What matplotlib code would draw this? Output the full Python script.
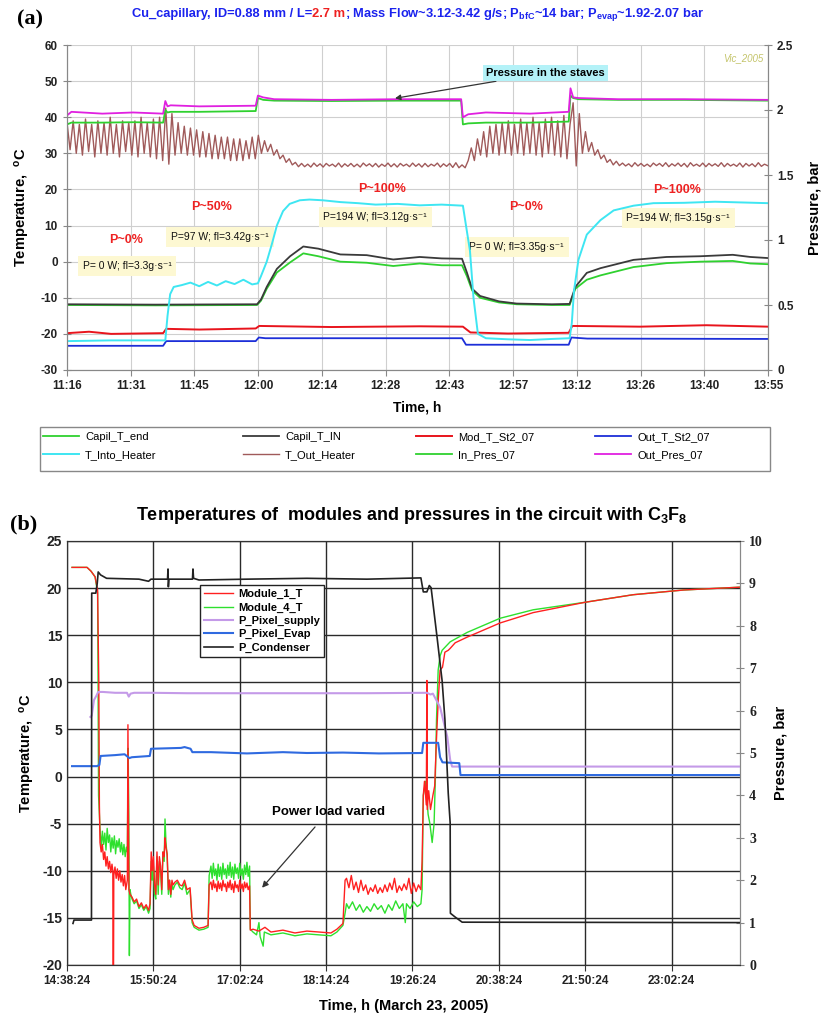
import matplotlib.pyplot as plt
import numpy as np
from matplotlib.offsetbox import TextArea, HPacker, AnchoredOffsetbox
from matplotlib.patches import Rectangle

plt.rcParams['font.family'] = ['Liberation Sans', 'DejaVu Sans']
plt.rcParams['axes.unicode_minus'] = False
plt.rcParams['mathtext.fontset'] = 'custom'
plt.rcParams['mathtext.rm'] = 'Liberation Sans:bold'
plt.rcParams['mathtext.it'] = 'Liberation Sans:bold'
plt.rcParams['mathtext.bf'] = 'Liberation Sans:bold'
plt.rcParams['mathtext.default'] = 'rm'

# ---------------- panel (a) data: minutes after 11:16 ----------------
a_ticklabels = ["11:16", "11:31", "11:45", "12:00", "12:14", "12:28", "12:43",
                "12:57", "13:12", "13:26", "13:40", "13:55"]
a_span = 159

# T_Out_Heater sampled every 0.7 min
out_heater_dt = 0.7
out_heater = [
    38.5, 31, 39, 30, 38, 29.5, 39.5, 30.5, 38, 29, 39, 30, 38.5, 29.5, 40, 30,
    38, 29, 39, 30.5, 38.5, 29.5, 39, 29, 40, 30, 38.5, 29, 39.5, 28.5, 40, 28,
    42.5, 27, 41, 29.5, 38.5, 30, 37.5, 29.5, 37, 29.5, 36.5, 29, 36, 29, 35.5, 28.5,
    35, 28.5, 34.5, 28.5, 34.5, 28, 34, 28, 34, 28, 33.5, 28.5, 34.5, 28.5, 35,
    30, 33.5, 30.5, 32.5, 29.5, 31, 28.5, 29.5, 27.5, 28.5, 26.8, 27.5, 26.3,
    27.2, 26.3, 27.0, 26.2, 27.3, 26.4, 27.1, 26.2, 27.2, 26.5, 27.0, 26.3, 27.3, 26.2,
    27.1, 26.4, 27.2, 26.3, 27.0, 26.2, 27.3, 26.5, 27.1, 26.3, 27.2, 26.2, 27.0, 26.4,
    27.3, 26.3, 27.1, 26.2, 27.2, 26.5, 27.0, 26.3, 27.3, 26.4, 27.1, 26.2, 27.2, 26.3,
    27.0, 26.5, 27.3, 26.2, 27.1, 26.4, 27.2, 26.1, 27.4, 26.0,
    26.8, 26.0, 28.0,
    31.5, 28, 34, 29.5, 36, 29, 37.5, 30, 38, 29.5, 38.5, 30, 39, 29.5, 38, 30,
    39.5, 29.5, 38.5, 30, 40, 29.5, 38.5, 29, 39.5, 30, 40, 29.5, 39, 29, 40.5, 28.5, 38,
    44, 26.5, 41, 30, 36, 30.5, 33, 29.5, 31, 28.5, 29.5, 27.5, 28.3, 26.8, 27.8, 26.6,
    27.3, 26.5, 27.1, 26.3, 27.4, 26.5, 27.2, 26.4, 27.0, 26.3, 27.3, 26.6, 27.2, 26.4,
    27.4, 26.3, 27.1, 26.5, 27.3, 26.4, 27.2, 26.2, 27.4, 26.5, 27.0, 26.4, 27.3, 26.3,
    27.2, 26.5, 27.1, 26.4, 27.4, 26.3, 27.2, 26.5, 27.0, 26.4, 27.3, 26.2, 27.2, 26.5,
    27.1, 26.3, 27.4, 26.4, 27.0, 26.6,
]

into_heater = [(0, -22), (10, -21.8), (22.3, -21.8), (22.8, -15), (23.4, -9), (24.2, -7),
               (26, -6.5), (28, -5.8), (30, -6.8), (32, -5.6), (34, -6.6), (36, -5.4),
               (38, -6.2), (40, -5), (42, -6.3), (43.3, -6), (44, -4), (45.3, 0), (46.5, 5),
               (47.6, 10), (49, 14), (50.5, 16), (52.8, 17), (55, 17.2), (58, 17), (62, 16.5),
               (66, 16.2), (70, 15.8), (75, 16), (80, 15.6), (85, 15.8), (89.8, 15.5),
               (90.5, 10), (91.4, 3), (92.2, -10), (93.2, -20), (95, -21.2), (100, -21.5),
               (105, -21.7), (110, -21.4), (114, -21.2), (114.5, -17), (115, -8), (116, 0.5),
               (117.9, 7.5), (121, 11.5), (124, 14.2), (128.5, 15.5), (133, 16.2), (140, 16.3),
               (147, 16.6), (153, 16.4), (159, 16.2)]

capil_in = [(0, -11.8), (20, -11.9), (43.1, -11.8), (44, -10.5), (45.3, -7), (47.6, -2),
            (50.6, 1.5), (53.6, 4.2), (57, 3.6), (62, 2), (68, 1.8), (74, 0.6), (80, 1.3),
            (85, 0.9), (89.6, 0.8), (90.7, -3), (91.9, -7.5), (93.7, -9.5), (98, -11),
            (102, -11.6), (110, -11.8), (114, -11.7), (115.3, -7), (117.9, -3.1), (121, -1.8),
            (128.5, 0.5), (136, 1.3), (143.6, 1.5), (151, 1.9), (155, 1.3), (159, 1.0)]

capil_end = [(0, -12), (20, -12.1), (43.1, -12), (44, -10.8), (45.3, -7.5), (47.6, -3),
             (50.6, -0.2), (53.6, 2.3), (57, 1.5), (62, 0), (68, -0.3), (74, -1.2), (80, -0.5),
             (85, -1), (89.6, -1), (90.7, -4), (91.9, -8), (93.7, -10), (98, -11.3),
             (102, -11.8), (110, -12), (114, -12), (115.3, -7.5), (117.9, -5), (121, -3.8),
             (128.5, -1.5), (136, -0.4), (143.6, 0), (151, 0.2), (155, -0.5), (159, -0.7)]

mod_st2 = [(0, -19.8), (5, -19.4), (10, -20), (21.8, -19.8), (22.5, -18.6), (30, -18.8),
           (42.8, -18.5), (43.6, -17.8), (60, -18.1), (80, -17.9), (89.8, -18), (91.5, -19.6),
           (100, -19.9), (113.8, -19.7), (114.6, -17.8), (130, -18), (145, -17.6), (159, -18)]

out_st2 = [(0, -23.3), (21.8, -23.3), (22.5, -22), (42.8, -22), (43.5, -21), (45, -21.2),
           (89.6, -21.2), (90.5, -23), (113.8, -23), (114.4, -21), (118, -21.3), (159, -21.4)]

pres_t = [0, 1, 8, 15, 21.8, 22.3, 22.8, 23.5, 30, 42.8, 43.3, 44.5, 47, 60, 75, 89.4, 89.8,
          91, 95, 105, 113.8, 114.2, 114.8, 116, 125, 140, 159]
out_pres = [1.958, 1.986, 1.972, 1.981, 1.972, 2.069, 2.028, 2.036, 2.028, 2.033, 2.111,
            2.097, 2.083, 2.078, 2.083, 2.083, 1.944, 1.967, 1.981, 1.972, 1.986, 2.167,
            2.097, 2.092, 2.083, 2.083, 2.078]
in_pres = [1.889, 1.903, 1.903, 1.906, 1.903, 2.0, 1.981, 1.986, 1.986, 1.992, 2.092, 2.078,
           2.072, 2.069, 2.072, 2.072, 1.889, 1.897, 1.903, 1.903, 1.911, 2.111, 2.092, 2.083,
           2.078, 2.078, 2.072]

# ---------------- panel (b) data: minutes after 14:38:24 ----------------
b_ticklabels = ["14:38:24", "15:50:24", "17:02:24", "18:14:24", "19:26:24", "20:38:24",
                "21:50:24", "23:02:24"]
b_span = 561

module4 = [(4.2, 22.2), (16.7, 22.2), (20, 21.8), (23.4, 21.2), (25.5, 19.5), (25.9, 10),
           (26.3, -2), (27.5, -5.5), (28.5, -7.5), (29.5, -5.8), (30.5, -7.2), (31.5, -6),
           (32.5, -7.8), (33.5, -5.5), (34.5, -7), (35.5, -6.2), (36.5, -8), (37.5, -6.5),
           (38.5, -7.6), (39.5, -6.3), (40.5, -8.2), (41.5, -6.8), (42.5, -7.5), (43.5, -6.6),
           (44.5, -8), (45.5, -7), (46.5, -8.3), (47.5, -7.2), (48.5, -8.5), (49.5, -7.5),
           (50.3, -8), (51, 3), (51.5, -4), (52, -19), (52.5, -12), (53.2, -12.5),
           (54.2, -13), (56, -13.5), (58, -13.2), (60, -14), (62, -13.6), (64, -14.2),
           (66, -13.8), (68, -14.5), (69.2, -14), (70.2, -9), (71, -11), (72, -9.5),
           (73, -12.5), (74, -13), (75, -8.5), (76, -12.5), (77, -9), (78, -10), (79, -12.5),
           (80, -8), (81, -9), (81.7, -4.5), (82.5, -7), (83.5, -8.5), (84.5, -12.5),
           (85.5, -11), (86.5, -12.8), (87.5, -11.3), (88.4, -12), (90, -11.5), (92, -11.2),
           (94, -11.8), (96, -12), (98, -11.3), (100, -12.5), (102.6, -12), (104.3, -15.5),
           (106, -16), (110, -16.3), (114, -16.2), (117.6, -16), (118.5, -10.5),
           (120, -9.5), (121, -10.8), (122, -9.2), (123, -10.5), (124, -9.8), (125, -11),
           (126, -9.3), (127, -10.6), (128, -9.6), (129, -10.9), (130, -9.2), (131, -10.4),
           (132, -9.8), (133, -10.8), (134, -9.4), (135, -10.5), (136, -9.1), (137, -10.7),
           (138, -9.6), (139, -10.9), (140, -9.3), (141, -10.3), (142, -9.7), (143, -10.8),
           (144, -9.2), (145, -10.5), (146, -9.8), (147, -10.9), (148, -9.4), (149, -10.4),
           (150, -9.1), (151, -10.6), (152.2, -9.5), (152.8, -16.2), (155, -16.5),
           (158, -16.8), (160, -15.5), (161, -17), (163.5, -18), (164.5, -16.5), (170, -16.8),
           (180, -16.6), (190, -16.9), (200, -16.7), (210, -16.8), (220, -16.9), (225, -16.5),
           (230, -15.8), (231.8, -14.5), (233, -13.5), (235, -14), (238, -13.3), (241, -14.2),
           (244, -13.6), (247, -14.4), (250, -13.8), (253, -14.3), (256, -13.5), (259, -14.1),
           (262, -13.7), (265, -14.5), (268, -13.6), (271, -14.2), (274, -13.2), (277, -14),
           (280, -13.5), (282, -15.5), (283, -13.5), (286, -14), (289, -13.3), (292, -13.8),
           (295, -13.5), (296, -12), (297, -2), (299, -0.5), (301, -4), (302.5, -5),
           (304.4, -7), (306, -5), (307, -0.5), (308, 6), (309.4, 11.3), (311, 12.8),
           (312.7, 13.4), (319.4, 14.3), (333.6, 15.3), (361, 16.8), (388.6, 17.7),
           (432, 18.5), (472, 19.3), (514, 19.8), (561, 20.1)]

module1 = [(4.2, 22.2), (16.7, 22.2), (20, 21.8), (23.4, 21.2), (25.5, 19.8), (26.5, 10.2),
           (27, -3), (27.5, -7), (28.5, -8), (29.5, -7.2), (30.5, -8.8), (31.5, -8),
           (32.5, -9.5), (33.5, -8.5), (34.5, -9.8), (35.5, -9), (36.5, -10.2), (37.5, -9.3),
           (38.2, -10), (38.4, -20), (38.8, -20), (39, -10.5), (40, -9.6), (41, -10.8),
           (42, -9.8), (43, -11), (44, -10), (45, -11.2), (46, -10.4), (47, -11.6),
           (48, -10.5), (49, -12), (50.3, -11), (50.8, 5.5), (51.2, -3), (51.6, -12),
           (52.5, -12.5), (54.2, -12.8), (56, -13.3), (58, -13), (60, -13.8), (62, -13.4),
           (64, -14), (66, -13.6), (68, -14.2), (69.2, -13.5), (70.2, -8), (71, -10),
           (72, -8.5), (73, -11.5), (74, -12.5), (75, -8), (76, -11.5), (77, -8.5),
           (78, -9.5), (79, -12), (80, -8), (81, -8.5), (81.7, -6.5), (82.5, -7.5),
           (83.5, -8.2), (84.5, -12), (85.5, -11), (86.5, -12.5), (87.5, -11), (88.4, -11.5),
           (90, -11.2), (92, -11), (94, -11.5), (96, -11.6), (98, -11), (100, -12),
           (102.6, -11.8), (104.3, -15.2), (106, -15.8), (110, -16.1), (114, -16),
           (117.6, -15.8), (118.5, -11.5), (120, -11.2), (121, -12), (122, -11), (123, -11.8),
           (124, -11.4), (125, -12.2), (126, -11.1), (127, -11.9), (128, -11.3), (129, -12.1),
           (130, -11), (131, -11.7), (132, -11.4), (133, -12.2), (134, -11.2), (135, -11.8),
           (136, -11), (137, -12), (138, -11.4), (139, -12.3), (140, -11.1), (141, -11.8),
           (142, -11.5), (143, -12.2), (144, -11), (145, -11.9), (146, -11.4), (147, -12.2),
           (148, -11.2), (149, -11.8), (150, -11.3), (151, -12), (152.2, -11.6),
           (152.8, -16.3), (155, -16.2), (160, -16.4), (165, -16), (170, -16.5), (180, -16.3),
           (190, -16.6), (200, -16.4), (210, -16.5), (220, -16.6), (225, -16.2), (230, -15.6),
           (231.8, -11), (233, -10.8), (235, -11.8), (237, -10.5), (239, -12), (241, -11.2),
           (243, -12.3), (245, -11), (247, -12.1), (249, -11.5), (251, -12.5), (253, -11.8),
           (255, -12.2), (257, -11.5), (259, -12.4), (261, -11.8), (263, -12.3), (265, -11.5),
           (267, -12.2), (269, -11.3), (271, -12), (273, -10.8), (275, -12.3), (277, -11.6),
           (279, -12.1), (281, -11.4), (283, -12), (285, -10.8), (287, -12.4), (289, -11.3),
           (291, -12.2), (293, -11.5), (295, -12), (296, -9), (297, -2), (298, -0.5),
           (299.5, -3), (300, 10.2), (300.3, -3.5), (301.5, -1.5), (303, -3.5), (305, -2),
           (306.5, -1), (308, 4), (309.4, 8), (311, 11.3), (313, 11.6), (315, 13.2),
           (317.8, 13.4), (319.4, 13.6), (323.6, 14.2), (333.6, 14.8), (361, 16.3),
           (388.6, 17.4), (432, 18.5), (472, 19.3), (514, 19.8), (561, 20.1)]

p_supply = [(19.5, 5.85), (20.6, 5.88), (22.5, 6.25), (24.5, 6.35), (26, 6.44), (30, 6.44),
            (40, 6.42), (50, 6.42), (51.5, 6.33), (53, 6.4), (56, 6.42), (70, 6.42),
            (100, 6.41), (150, 6.41), (200, 6.41), (250, 6.41), (300, 6.42), (303, 6.38),
            (305, 6.4), (311, 6.08), (317, 5.38), (319.4, 4.84), (321, 4.68), (561, 4.68)]

p_evap = [(4.2, 4.69), (25, 4.69), (27, 4.72), (28, 4.93), (40, 4.95), (48, 4.97),
          (52, 4.88), (54, 4.9), (69, 4.93), (70, 5.1), (95, 5.12), (98, 5.14), (103, 5.1),
          (104.5, 5.02), (120, 5.02), (150, 4.99), (180, 5.02), (200, 5.0), (230, 5.01),
          (260, 4.99), (296, 5.0), (297, 5.24), (309.4, 5.24), (311, 4.9), (313, 4.78),
          (327, 4.76), (328, 4.48), (561, 4.48)]

p_condenser = [(5.0, 0.98), (5.8, 1.06), (20.4, 1.06), (20.6, 8.77), (24, 8.77), (25.2, 9.0),
               (26, 9.27), (28, 9.2), (33, 9.12), (60, 9.1), (68, 9.05), (70, 9.1),
               (83.8, 9.1), (84.2, 9.34), (84.5, 8.92), (85, 9.1), (104.6, 9.1), (105, 9.34),
               (105.5, 9.12), (110, 9.08), (150, 9.1), (200, 9.12), (250, 9.1), (295, 9.13),
               (297, 8.8), (300, 8.8), (302, 8.95), (303.5, 8.9), (308.6, 7.7), (312.7, 6.7),
               (315, 5.8), (317.8, 4.05), (319.4, 3.35), (319.6, 1.22), (323.6, 1.13),
               (329.4, 1.01), (561, 1.0)]

# ---------------- figure ----------------
fig = plt.figure(figsize=(8.25, 10.17), dpi=100)
W, H = 825, 1017
ax_a = fig.add_axes([67 / W, 1 - 370 / H, 701 / W, 325 / H])
ax_a2 = ax_a.twinx()
ax_b = fig.add_axes([67 / W, 1 - 965 / H, 673 / W, 424 / H])
ax_b2 = ax_b.twinx()


def xy(pts):
    arr = np.array(pts, dtype=float)
    return arr[:, 0], arr[:, 1]


# ---- panel (a) ----
c_green = '#2fd12f'
t_oh = np.arange(len(out_heater)) * out_heater_dt
l_end, = ax_a.plot(*xy(capil_end), color=c_green, lw=1.3, label='Capil_T_end')
l_in, = ax_a.plot(*xy(capil_in), color='#3a3a3a', lw=1.3, label='Capil_T_IN')
l_mod, = ax_a.plot(*xy(mod_st2), color='#e8141c', lw=1.4, label='Mod_T_St2_07')
l_out, = ax_a.plot(*xy(out_st2), color='#1c2ed8', lw=1.3, label='Out_T_St2_07')
l_into, = ax_a.plot(*xy(into_heater), color='#3ee6f2', lw=1.4, label='T_Into_Heater')
l_oh, = ax_a.plot(t_oh, out_heater, color='#a05a5a', lw=1.0, label='T_Out_Heater')
l_inp, = ax_a2.plot(pres_t, in_pres, color=c_green, lw=1.3, label='In_Pres_07')
l_outp, = ax_a2.plot(pres_t, out_pres, color='#e020e0', lw=1.3, label='Out_Pres_07')

ax_a.set_xlim(0, a_span)
ax_a.set_ylim(-30, 60)
ax_a2.set_ylim(0, 2.5)
ax_a.set_xticks(np.arange(12) * a_span / 11)
ax_a.set_xticklabels(a_ticklabels)
ax_a.set_yticks(np.arange(-30, 61, 10))
ax_a2.set_yticks([0, 0.5, 1, 1.5, 2, 2.5])
ax_a2.set_yticklabels(['0', '0.5', '1', '1.5', '2', '2.5'])
ax_a.grid(True, color='#cfcfcf', lw=0.8)
ax_a.set_axisbelow(True)
for ax in (ax_a, ax_a2):
    for side in ('left', 'right', 'bottom'):
        ax.spines[side].set_color('#888888')
    ax.spines['top'].set_visible(False)
ax_a.tick_params(axis='both', labelsize=8.5, colors='#888888', labelcolor='#222222', length=4)
ax_a.tick_params(axis='y', direction='inout', length=6)
ax_a2.tick_params(axis='y', labelsize=8.5, colors='#888888', labelcolor='#222222',
                  direction='inout', length=6)
for lab in ax_a.get_xticklabels() + ax_a.get_yticklabels() + ax_a2.get_yticklabels():
    lab.set_fontweight('bold')
ax_a.set_xlabel('Time, h', fontsize=10, fontweight='bold', labelpad=6)
ax_a.set_ylabel('Temperature,  $^{o}$C', fontsize=10.5, fontweight='bold', labelpad=6)
ax_a2.set_ylabel('Pressure, bar', fontsize=10.5, fontweight='bold', labelpad=10)

red_labels = [(13.4, 6.0, 'P~0%'), (32.7, 15.1, 'P~50%'), (71.4, 20.1, 'P~100%'),
              (104.1, 15.1, 'P~0%'), (138.4, 19.8, 'P~100%')]
for x, y, s in red_labels:
    ax_a.text(x, y, s, color='#ee2222', fontsize=9, fontweight='bold', ha='center', va='center')

info_boxes = [(13.6, -1.2, 'P= 0 W; fl=3.3g·s⁻¹'), (34.7, 6.8, 'P=97 W; fl=3.42g·s⁻¹'),
              (69.9, 12.4, 'P=194 W; fl=3.12g·s⁻¹'), (102.0, 4.1, 'P= 0 W; fl=3.35g·s⁻¹'),
              (138.6, 12.1, 'P=194 W; fl=3.15g·s⁻¹')]
for x, y, s in info_boxes:
    ax_a.text(x, y, s, fontsize=7.5, ha='center', va='center', color='#111111', zorder=1,
              bbox=dict(boxstyle='square,pad=0.45', fc='#fdf8d2', ec='none'))

ax_a.text(153.5, 56.4, 'Vic_2005', fontsize=7, style='italic', color='#c4c46a',
          ha='center', va='center')
ax_a2.annotate('Pressure in the staves', xy=(74.4, 2.09), xytext=(108.5, 2.285),
               fontsize=8, fontweight='bold', ha='center', va='center',
               bbox=dict(boxstyle='square,pad=0.3', fc='#b4f2f8', ec='none'),
               arrowprops=dict(arrowstyle='-|>', color='#333333', lw=0.9,
                               shrinkA=0, shrinkB=0, mutation_scale=8))

# legend (a): one frame, four two-row columns like the spreadsheet layout
fig.add_artist(Rectangle((40 / W, 1 - 471 / H), 730 / W, 44 / H, transform=fig.transFigure,
                         fill=False, ec='#888888', lw=1.0))
legend_cols = [(43, [l_end, l_into]), (243, [l_in, l_oh]), (416, [l_mod, l_inp]),
               (595, [l_out, l_outp])]
for x0, hs in legend_cols:
    fig.legend(handles=hs, labels=[h.get_label() for h in hs], loc='upper left',
               bbox_to_anchor=(x0 / W, 1 - 432 / H), fontsize=8, frameon=False,
               handlelength=3.2, handletextpad=0.6, borderaxespad=0, borderpad=0,
               labelspacing=0.75)

# title (a) with coloured parts
parts = [("Cu_capillary, ID=0.88 mm / L=", '#1a22ee'), ("2.7 m", '#ee2020'),
         ("; Mass Flow~3.12-3.42 g/s; P$_{bfC}$~14 bar; P$_{evap}$~1.92-2.07 bar", '#1a22ee')]
areas = [TextArea(s, textprops=dict(color=c, fontsize=9.3, fontweight='bold')) for s, c in parts]
title_box = AnchoredOffsetbox(loc='center', child=HPacker(children=areas, align='baseline',
                                                          pad=0, sep=0),
                              pad=0, borderpad=0, frameon=False,
                              bbox_to_anchor=(418 / W, 1 - 15 / H),
                              bbox_transform=fig.transFigure)
fig.add_artist(title_box)
fig.text(17 / W, 1 - 19 / H, '(a)', fontsize=16, fontweight='bold', family='Liberation Serif',
         ha='left', va='center')

# ---- panel (b) ----
l_m4, = ax_b.plot(*xy(module4), color='#2ee02e', lw=1.0, label='Module_4_T')
l_m1, = ax_b.plot(*xy(module1), color='#ff2020', lw=1.0, label='Module_1_T')
l_sup, = ax_b2.plot(*xy(p_supply), color='#c49ae8', lw=1.5, label='P_Pixel_supply')
l_evp, = ax_b2.plot(*xy(p_evap), color='#2f6ae0', lw=1.5, label='P_Pixel_Evap')
l_con, = ax_b2.plot(*xy(p_condenser), color='#222222', lw=1.2, label='P_Condenser')

ax_b.set_xlim(0, b_span)
ax_b.set_ylim(-20, 25)
ax_b2.set_ylim(0, 10)
ax_b.set_xticks(np.arange(8) * 72)
ax_b.set_xticklabels(b_ticklabels)
ax_b.set_yticks(np.arange(-20, 26, 5))
ax_b2.set_yticks(np.arange(0, 11, 1))
ax_b.grid(True, color='#2a2a2a', lw=1.0)
ax_b.set_axisbelow(True)
for ax in (ax_b, ax_b2):
    for side in ('left', 'bottom', 'top'):
        ax.spines[side].set_color('#333333')
    ax.spines['right'].set_color('#888888')
ax_b.tick_params(axis='x', labelsize=8.5, length=4, colors='#333333', labelcolor='#222222')
ax_b.tick_params(axis='y', labelsize=10, length=0, labelcolor='#222222')
ax_b2.tick_params(axis='y', labelsize=10, direction='inout', length=6, colors='#888888',
                  labelcolor='#222222')
for lab in ax_b.get_xticklabels() + ax_b.get_yticklabels():
    lab.set_fontweight('bold')
for lab in ax_b2.get_yticklabels():
    lab.set_fontweight('bold')
    lab.set_family('Liberation Serif')
ax_b.set_xlabel('Time, h (March 23, 2005)', fontsize=10.5, fontweight='bold', labelpad=8)
ax_b.set_ylabel('Temperature,  $^{o}$C', fontsize=10.5, fontweight='bold', labelpad=4)
ax_b2.set_ylabel('Pressure, bar', fontsize=10.5, fontweight='bold', labelpad=8)

ax_b2.legend(handles=[l_m1, l_m4, l_sup, l_evp, l_con],
             labels=['Module_1_T', 'Module_4_T', 'P_Pixel_supply', 'P_Pixel_Evap',
                     'P_Condenser'],
             loc='upper left', bbox_to_anchor=(0.198, 0.896),
             prop=dict(weight='bold', size=8), frameon=True, fancybox=False,
             edgecolor='#222222', framealpha=1, handlelength=2.6, handletextpad=0.5,
             borderaxespad=0, borderpad=0.35, labelspacing=0.3)

ax_b.annotate('Power load varied', xy=(162.6, -11.8), xytext=(217.7, -3.75),
              fontsize=9.5, fontweight='bold', ha='center', va='center',
              arrowprops=dict(arrowstyle='-|>', color='#333333', lw=0.9,
                              shrinkA=6, shrinkB=0, mutation_scale=9))

fig.text(412 / W, 1 - 515 / H,
         'Temperatures of  modules and pressures in the circuit with C$_3$F$_8$',
         fontsize=13, fontweight='bold', ha='center', va='center')
fig.text(10 / W, 1 - 524 / H, '(b)', fontsize=16, fontweight='bold', family='Liberation Serif',
         ha='left', va='center')

fig.savefig('out.png', dpi=100, facecolor='white')
